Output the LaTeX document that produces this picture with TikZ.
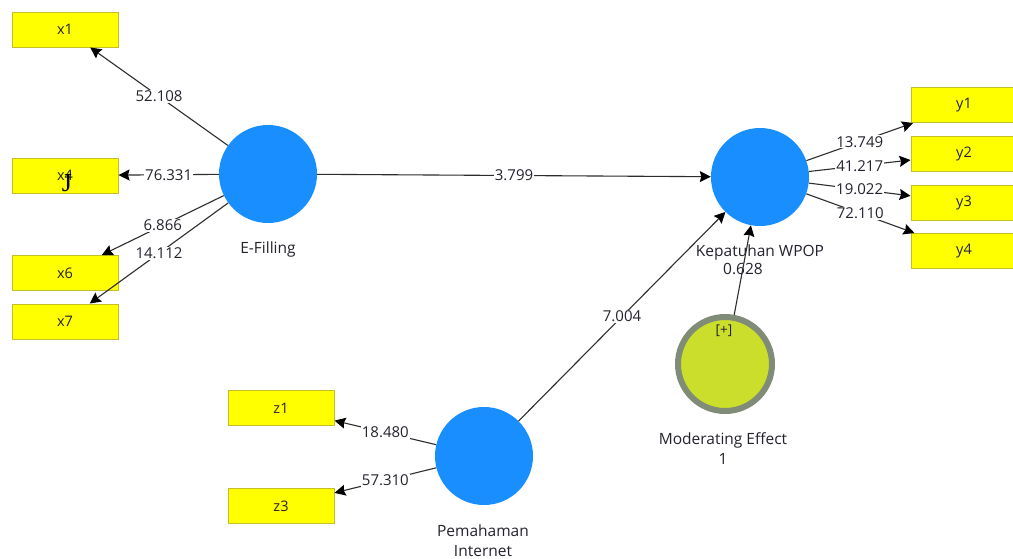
\documentclass[tikz,border=0pt]{standalone}
\usepackage{fontspec}
\setmainfont{Open Sans}
\newfontfamily\glyphfont{Liberation Serif}
\usetikzlibrary{arrows.meta}

\definecolor{latent}{RGB}{24,142,255}
\definecolor{indfill}{RGB}{255,255,0}
\definecolor{indedge}{RGB}{196,190,40}
\definecolor{modfill}{RGB}{203,222,44}
\definecolor{modedge}{RGB}{128,140,120}
\definecolor{wire}{RGB}{45,45,45}
\definecolor{ink}{RGB}{35,35,45}

\tikzset{
  indbox/.style={draw=indedge, fill=indfill, line width=1pt, minimum width=106, minimum height=35,
    inner sep=0pt, font=\fontsize{14.5}{16}\selectfont, text=ink},
  latentnode/.style={circle, fill=latent, minimum size=98, inner sep=0pt},
  modnode/.style={circle, fill=modfill, draw=modedge, line width=6pt, minimum size=94, inner sep=0pt},
  arr/.style={draw=wire, line width=1.1pt, -{Stealth[length=11pt,width=11pt,inset=1.5pt,black]}},
  coef/.style={fill=white, inner sep=1pt, font=\fontsize{15}{17}\selectfont, text=ink, midway},
  capt/.style={font=\fontsize{15.5}{20}\selectfont, text=ink, align=center, inner sep=0pt},
}

\begin{document}
\begin{tikzpicture}[x=1pt, y=-1pt]
  \clip (0,0) rectangle (1013,558);
  \fill[white] (0,0) rectangle (1013,558);

  % latent variables
  \node[latentnode] (ef)  at (268,174) {};
  \node[latentnode] (kp)  at (760,177) {};
  \node[latentnode] (pem) at (484,456) {};
  \node[modnode]    (mod) at (725,364) {};

  % indicators
  \node[indbox] (x1) at (65,29.5) {x1};
  \node[indbox] (x4) at (65,175.5) {x4};
  \node[indbox] (x6) at (65,273) {x6};
  \node[indbox] (x7) at (65,321.5) {x7};
  \node[indbox] (y1) at (964,105) {y1};
  \node[indbox] (y2) at (964,154) {y2};
  \node[indbox] (y3) at (964,202.5) {y3};
  \node[indbox] (y4) at (964,251) {y4};
  \node[indbox] (z1) at (281,408) {z1};
  \node[indbox] (z3) at (281,506) {z3};

  \node[font=\glyphfont\fontsize{26}{26}\selectfont, inner sep=0pt] (jmark) at (67,183) {J};

  % captions
  \node[capt] (efcap)  at (268,249) {E-Filling};
  \node[capt] (kpcap)  at (760,252) {Kepatuhan WPOP};
  \node[capt] (kpr2)   at (743,269) {0.628};
  \node[capt] (modcap) at (723,448.5) {Moderating Effect\\1};
  \node[capt] (pemcap) at (483,540.5) {Pemahaman\\Internet};
  \node[font=\fontsize{13.5}{15}\selectfont, text=ink, inner sep=0pt] (plus) at (724,331) {[+]};

  % outer loadings
  \draw[arr] (ef) -- (x1) node[coef] {52.108};
  \draw[arr] (ef) -- (x4) node[coef] {76.331};
  \draw[arr] (ef) -- (x6) node[coef] {6.866};
  \draw[arr] (ef) -- (x7) node[coef] {14.112};
  \draw[arr] (kp) -- (y1) node[coef] {13.749};
  \draw[arr] (kp) -- (y2) node[coef] {41.217};
  \draw[arr] (kp) -- (y3) node[coef] {19.022};
  \draw[arr] (kp) -- (y4) node[coef] {72.110};
  \draw[arr] (pem) -- (z1) node[coef] {18.480};
  \draw[arr] (pem) -- (z3) node[coef] {57.310};

  % inner model
  \draw[arr] (ef) -- (kp) node[coef] {3.799};
  \draw[arr] (pem) -- (kp) node[coef] {7.004};
  \draw[arr] (mod) -- (kp);
\end{tikzpicture}
\end{document}
